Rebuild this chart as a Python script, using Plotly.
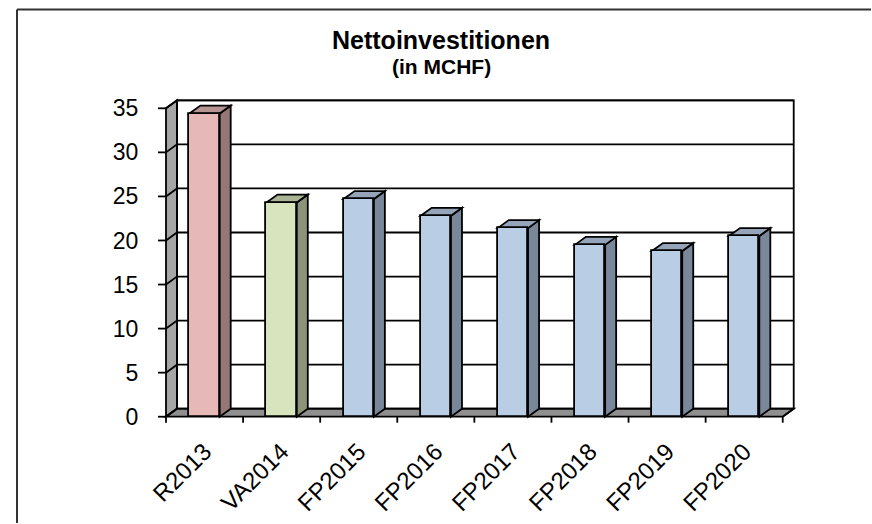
import plotly.graph_objects as go

# ---------------- data ----------------
categories = ["R2013", "VA2014", "FP2015", "FP2016", "FP2017", "FP2018", "FP2019", "FP2020"]
values = [34.4, 24.3, 24.7, 22.8, 21.4, 19.5, 18.8, 20.5]
y_ticks = [0, 5, 10, 15, 20, 25, 30, 35]
title_text = "Nettoinvestitionen"
subtitle_text = "(in MCHF)"

# ---------------- styles ----------------
front_colors = ["#E6B9B8", "#D7E4BD"] + ["#B9CDE5"] * 6
side_colors = ["#957777", "#8B9478"] + ["#78879A"] * 6
top_colors = ["#B59492", "#A8B493"] + ["#95A4B8"] * 6
EDGE = "#000000"
LW = 1.8
FONT = "Liberation Sans, Arial, sans-serif"

W, H = 872, 524
PL, PR, PT, PB = 158, 800, 94, 426      # plot area in pixels
X0_PX, Y0_PX = 166.0, 416.7              # pixel of front-left corner (x=-0.5, y=0)
UX, UY = 77.09, 8.811                    # pixels per unit
DX, DY = 11.0 / UX, 8.0 / UY             # 3D depth offset in axis units
BAR_W = 30.3 / UX

n = len(categories)
pos = list(range(n))
xl, xr = -0.5, n - 0.5
ymax = y_ticks[-1]

x_range = [xl - (X0_PX - PL) / UX, xl + (PR - X0_PX) / UX]
y_range = [-(PB - Y0_PX) / UY, (Y0_PX - PT) / UY]


def path(pts):
    return "M " + " L ".join(f"{x},{y}" for x, y in pts) + " Z"


def px2paper(px, py):
    return (px - PL) / (PR - PL), (PB - py) / (PB - PT)


shapes = []
# left wall
shapes.append(dict(type="path", xref="x", yref="y", layer="below",
                   path=path([(xl, 0), (xl + DX, DY), (xl + DX, ymax + DY), (xl, ymax)]),
                   fillcolor="#A6A6A6", line=dict(color=EDGE, width=LW)))
# floor
shapes.append(dict(type="path", xref="x", yref="y", layer="below",
                   path=path([(xl, 0), (xr, 0), (xr + DX, DY), (xl + DX, DY)]),
                   fillcolor="#8F8F8F", line=dict(color=EDGE, width=LW)))
# gridlines (side wall diagonal + back wall)
for v in y_ticks:
    shapes.append(dict(type="path", xref="x", yref="y", layer="below",
                       path=f"M {xl},{v} L {xl + DX},{v + DY} L {xr + DX},{v + DY}",
                       line=dict(color=EDGE, width=LW)))
# back wall outline
shapes.append(dict(type="path", xref="x", yref="y", layer="below",
                   path=f"M {xl + DX},{DY} L {xl + DX},{ymax + DY} L {xr + DX},{ymax + DY} L {xr + DX},{DY} L {xr},0",
                   line=dict(color=EDGE, width=LW)))
# y tick marks
for v in y_ticks:
    shapes.append(dict(type="line", xref="x", yref="y", layer="below",
                       x0=xl - 8 / UX, x1=xl, y0=v, y1=v, line=dict(color=EDGE, width=LW)))
# x tick marks at category boundaries
for b in [p - 0.5 for p in pos] + [xr]:
    shapes.append(dict(type="line", xref="x", yref="y", layer="below",
                       x0=b, x1=b, y0=0, y1=-6 / UY, line=dict(color=EDGE, width=LW)))
# bar side and top faces
for p, v, sc, tc in zip(pos, values, side_colors, top_colors):
    l, r = p - BAR_W / 2, p + BAR_W / 2
    shapes.append(dict(type="path", xref="x", yref="y", layer="below",
                       path=path([(r, 0), (r + DX, DY), (r + DX, v + DY), (r, v)]),
                       fillcolor=sc, line=dict(color=EDGE, width=LW)))
    shapes.append(dict(type="path", xref="x", yref="y", layer="below",
                       path=path([(l, v), (l + DX, v + DY), (r + DX, v + DY), (r, v)]),
                       fillcolor=tc, line=dict(color=EDGE, width=LW)))

# blank strip on the right edge of the chart area
bx0, by0 = px2paper(840, 0)
bx1, by1 = px2paper(W, H)
shapes.append(dict(type="rect", xref="paper", yref="paper", layer="above",
                   x0=bx0, x1=bx1, y0=by1, y1=by0,
                   fillcolor="#FFFFFF", line=dict(width=0)))

# outer frame (top and left lines)
fx0, fy0 = px2paper(17, 9.5)
fx1, _ = px2paper(W - 1, 9.5)
_, fy1 = px2paper(17, H - 1)
shapes.append(dict(type="line", xref="paper", yref="paper", layer="above",
                   x0=fx0, x1=fx1, y0=fy0, y1=fy0,
                   line=dict(color="#333333", width=2)))
shapes.append(dict(type="line", xref="paper", yref="paper", layer="above",
                   x0=fx0, x1=fx0, y0=fy0, y1=fy1,
                   line=dict(color="#333333", width=2)))

fig = go.Figure()
fig.add_trace(go.Bar(x=pos, y=values, width=BAR_W,
                     marker=dict(color=front_colors, line=dict(color=EDGE, width=LW)),
                     hoverinfo="skip", showlegend=False))

tx, ty = px2paper(441, 40)
sx, sy = px2paper(441, 66)
annotations = [
    dict(text=f"<b>{title_text}</b>", x=tx, y=ty, xref="paper", yref="paper",
         xanchor="center", yanchor="middle", showarrow=False,
         font=dict(family=FONT, size=25, color="#000000")),
    dict(text=f"<b>{subtitle_text}</b>", x=sx, y=sy, xref="paper", yref="paper",
         xanchor="center", yanchor="middle", showarrow=False,
         font=dict(family=FONT, size=21, color="#000000")),
]

fig.update_layout(
    width=W, height=H,
    margin=dict(l=PL, r=W - PR, t=PT, b=H - PB, pad=0, autoexpand=False),
    paper_bgcolor="white", plot_bgcolor="white",
    shapes=shapes, annotations=annotations,
    font=dict(family=FONT, color="#000000"),
    bargap=0,
)
fig.update_xaxes(range=x_range, tickvals=pos, ticktext=categories, tickangle=-45,
                 ticks="outside", ticklen=1, tickcolor="rgba(0,0,0,0)",
                 showgrid=False, zeroline=False, showline=False, automargin=False,
                 tickfont=dict(family=FONT, size=24, color="#000000"), fixedrange=True)
fig.update_yaxes(range=y_range, tickvals=y_ticks, ticks="outside", ticklen=14,
                 tickcolor="rgba(0,0,0,0)",
                 showgrid=False, zeroline=False, showline=False, automargin=False,
                 tickfont=dict(family=FONT, size=23, color="#000000"), fixedrange=True)

fig.write_html("out.html", config={"displayModeBar": False})
